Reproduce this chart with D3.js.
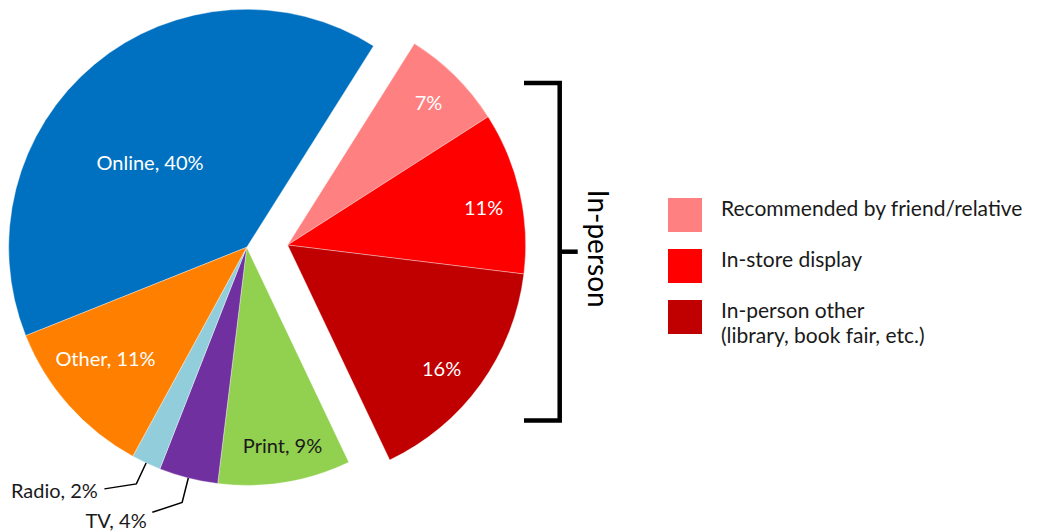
<!DOCTYPE html>
<html>
<head>
<meta charset="utf-8">
<script src="https://cdn.jsdelivr.net/npm/d3@7/dist/d3.min.js"></script>
<style>
  html, body { margin: 0; padding: 0; background: #ffffff; }
  svg { display: block; }
  text { font-family: Lato, "Open Sans", "Noto Sans", sans-serif; }
</style>
</head>
<body>
<svg id="chart" width="1039" height="531"></svg>
<script>
// Where readers first heard about the book (share of respondents, %)
const categories = ["Online", "Recommended by friend/relative", "In-store display",
  "In-person other", "Print", "TV", "Radio", "Other"];
const shares = [40, 7, 11, 16, 9, 4, 2, 11];
// Short names written on the slices (the in-person slices show only the share)
const sliceNames = ["Online", "", "", "", "Print", "TV", "Radio", "Other"];
// Slices pulled out together as the "In-person" group
const inPerson = [false, true, true, true, false, false, false, false];
// Legend lines for the in-person slices
const legendLines = [
  ["Recommended by friend/relative"],
  ["In-store display"],
  ["In-person other", "(library, book fair, etc.)"]
];
const groupTitle = "In-person";

// ---- styling & layout ----
const colors = {
  "Online": "#0070C0",
  "Recommended by friend/relative": "#FF8080",
  "In-store display": "#FF0000",
  "In-person other": "#C00000",
  "Print": "#92D050",
  "TV": "#7030A0",
  "Radio": "#92CDDC",
  "Other": "#FF8000"
};
const deg = Math.PI / 180;
const cx = 246.7, cy = 247.3, radius = 238;
const startAngle = -111.8 * deg;
const explodeDist = 41, explodeAngle = 86.8 * deg;

// label placement: distance as a fraction of the radius, angle shift from slice middle (deg)
const labelPlace = {
  "Online": { k: 0.54, shift: -9, fill: "#ffffff" },
  "Recommended by friend/relative": { k: 0.84, shift: 0, fill: "#ffffff" },
  "In-store display": { k: 0.838, shift: 2, fill: "#ffffff" },
  "In-person other": { k: 0.83, shift: 3, fill: "#ffffff" },
  "Print": { k: 0.85, shift: -1, fill: "#1a1a1a" },
  "Other": { k: 0.756, shift: 3.3, fill: "#ffffff" }
};
// outside labels with leader lines
const outside = {
  "Radio": { elbow: 1.097, endK: 1.178, endShift: 5.5, textK: 1.225, textShift: 5.7 },
  "TV": { elbow: 1.106, endK: 1.182, endShift: 5.4, textK: 1.253, textShift: 5.4 }
};

const svg = d3.select("#chart");

const pie = d3.pie().sort(null).value(d => d)
  .startAngle(startAngle).endAngle(startAngle + 2 * Math.PI);
const arcs = pie(shares).map((a, i) => Object.assign(a, {
  name: categories[i], short: sliceNames[i], group: inPerson[i]
}));

const arc = d3.arc().innerRadius(0).outerRadius(radius);
const polar = (ang, dist) => [Math.sin(ang) * dist, -Math.cos(ang) * dist];

const offset = polar(explodeAngle, explodeDist);

const groups = [
  { explode: false, x: cx, y: cy },
  { explode: true, x: cx + offset[0], y: cy + offset[1] }
];

groups.forEach(gdef => {
  const g = svg.append("g").attr("transform", `translate(${gdef.x},${gdef.y})`);
  const items = arcs.filter(a => a.group === gdef.explode);
  g.selectAll("path.slice").data(items).join("path")
    .attr("class", "slice")
    .attr("d", arc)
    .attr("fill", d => colors[d.name])
    .attr("stroke", "#ffffff")
    .attr("stroke-width", 0.6)
    .attr("stroke-opacity", 0.6);

  // labels inside the slices
  const inside = items.filter(d => labelPlace[d.name]);
  g.selectAll("text.lab").data(inside).join("text")
    .attr("class", "lab")
    .attr("text-anchor", "middle")
    .attr("dy", "0.35em")
    .attr("font-size", 20)
    .attr("fill", d => labelPlace[d.name].fill)
    .attr("transform", d => {
      const p = labelPlace[d.name];
      const mid = (d.startAngle + d.endAngle) / 2 + p.shift * deg;
      const [x, y] = polar(mid, p.k * radius);
      return `translate(${x},${y})`;
    })
    .text(d => (d.short ? d.short + ", " : "") + d.value + "%");

  // outside labels with leader lines
  const outs = items.filter(d => outside[d.name]);
  outs.forEach(d => {
    const o = outside[d.name];
    const mid = (d.startAngle + d.endAngle) / 2;
    const p0 = polar(mid, radius);
    const p1 = polar(mid, o.elbow * radius);
    const p2 = polar(mid + o.endShift * deg, o.endK * radius);
    g.append("path")
      .attr("d", d3.line()([p0, p1, p2]))
      .attr("fill", "none")
      .attr("stroke", "#000000")
      .attr("stroke-width", 1.5);
    const t = polar(mid + o.textShift * deg, o.textK * radius);
    g.append("text")
      .attr("x", t[0]).attr("y", t[1])
      .attr("text-anchor", "end")
      .attr("font-size", 20)
      .attr("fill", "#1a1a1a")
      .text(d.short + ", " + d.value + "%");
  });
});

// bracket around the in-person slices
const bx = 559.7, bTop = 83, bBot = 420.5, bMid = 251.7;
const bracket = svg.append("g")
  .attr("fill", "none").attr("stroke", "#000000").attr("stroke-width", 4.5);
bracket.append("path")
  .attr("d", d3.line()([[524, bTop], [bx, bTop], [bx, bBot], [524, bBot]]));
bracket.append("path")
  .attr("d", d3.line()([[bx, bMid], [577.7, bMid]]));

svg.append("text")
  .attr("transform", `translate(598,${bMid - 3}) rotate(90)`)
  .attr("text-anchor", "middle")
  .attr("dy", "0.35em")
  .attr("font-size", 28)
  .attr("fill", "#000000")
  .text(groupTitle);

// legend for the in-person slices
const legendItems = arcs.filter(a => a.group);
const legend = svg.append("g").attr("transform", "translate(668,198)");
const rowStep = 51, sw = 34;
const rows = legend.selectAll("g.row").data(legendItems).join("g")
  .attr("class", "row")
  .attr("transform", (d, i) => `translate(0,${i * rowStep})`);
rows.append("rect")
  .attr("width", sw).attr("height", sw)
  .attr("fill", d => colors[d.name]);
rows.each(function (d, i) {
  const t = d3.select(this).append("text")
    .attr("x", 53).attr("y", 18)
    .attr("font-size", 21)
    .attr("fill", "#1a1a1a");
  legendLines[i].forEach((line, j) => {
    t.append("tspan").attr("x", 53).attr("dy", j === 0 ? 0 : 25).text(line);
  });
});
</script>
</body>
</html>
